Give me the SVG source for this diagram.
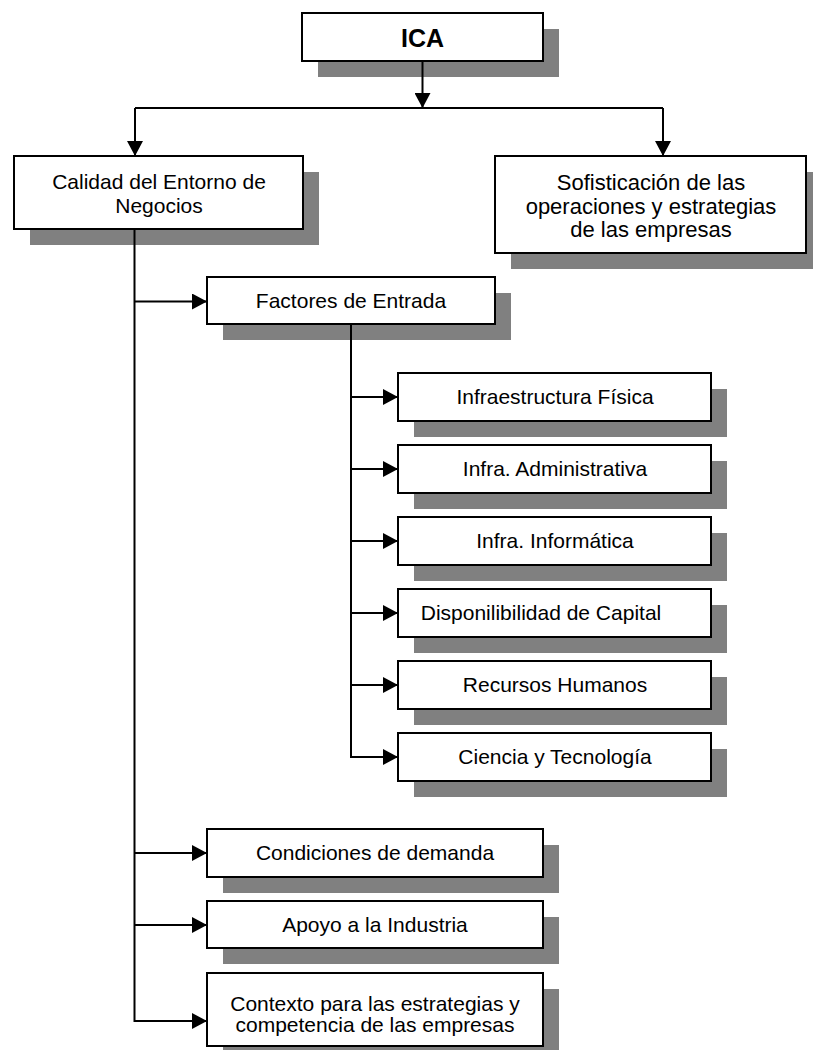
<svg xmlns="http://www.w3.org/2000/svg" width="813" height="1050" viewBox="0 0 813 1050">
<defs>
<style>
.sh{fill:#808080}
.bx{fill:#ffffff;stroke:#000000;stroke-width:2}
.t{font-family:"Liberation Sans",Arial,sans-serif;font-size:21px;fill:#000000;text-anchor:middle}
.t2{font-size:22px}
.tb{font-family:"Liberation Sans",Arial,sans-serif;font-size:25px;font-weight:bold;fill:#000000;text-anchor:middle}
.ln{fill:none;stroke:#000000;stroke-width:2}
</style>
<marker id="ah" viewBox="0 0 15 16" refX="15" refY="8" markerWidth="15" markerHeight="16" markerUnits="userSpaceOnUse" orient="auto">
<path d="M0,0 L15,8 L0,16 z" fill="#000000"/>
</marker>
</defs>
<rect width="813" height="1050" fill="#ffffff"/>

<g id="ica">
<rect class="sh" x="318" y="29" width="241" height="48"/>
<rect class="bx" x="302" y="13" width="241" height="48"/>
<text class="tb" x="422.5" y="47">ICA</text>
</g>

<g id="calidad">
<rect class="sh" x="30" y="172" width="289" height="73"/>
<rect class="bx" x="14" y="156" width="289" height="73"/>
<text class="t" x="159" y="188.5">Calidad del Entorno de</text>
<text class="t" x="159" y="212.5">Negocios</text>
</g>

<g id="sofisticacion">
<rect class="sh" x="511" y="172" width="311" height="97"/>
<rect class="bx" x="495" y="156" width="311" height="97"/>
<text class="t t2" x="651" y="190">Sofisticación de las</text>
<text class="t t2" x="651" y="213.5">operaciones y estrategias</text>
<text class="t t2" x="651" y="237">de las empresas</text>
</g>

<g id="factores">
<rect class="sh" x="223" y="293" width="288" height="47"/>
<rect class="bx" x="207" y="277" width="288" height="47"/>
<text class="t" x="351" y="307.5">Factores de Entrada</text>
</g>

<g id="infraestructura">
<rect class="sh" x="414" y="389" width="313" height="48"/>
<rect class="bx" x="398" y="373" width="313" height="48"/>
<text class="t" x="555" y="404">Infraestructura Física</text>
</g>

<g id="administrativa">
<rect class="sh" x="414" y="461" width="313" height="48"/>
<rect class="bx" x="398" y="445" width="313" height="48"/>
<text class="t" x="555" y="476">Infra. Administrativa</text>
</g>

<g id="informatica">
<rect class="sh" x="414" y="533" width="313" height="48"/>
<rect class="bx" x="398" y="517" width="313" height="48"/>
<text class="t" x="555" y="548">Infra. Informática</text>
</g>

<g id="capital">
<rect class="sh" x="414" y="605" width="313" height="48"/>
<rect class="bx" x="398" y="589" width="313" height="48"/>
<text class="t" x="541" y="620">Disponilibilidad de Capital</text>
</g>

<g id="recursos">
<rect class="sh" x="414" y="677" width="313" height="48"/>
<rect class="bx" x="398" y="661" width="313" height="48"/>
<text class="t" x="555" y="692">Recursos Humanos</text>
</g>

<g id="ciencia">
<rect class="sh" x="414" y="749" width="313" height="48"/>
<rect class="bx" x="398" y="733" width="313" height="48"/>
<text class="t" x="555" y="764">Ciencia y Tecnología</text>
</g>

<g id="demanda">
<rect class="sh" x="223" y="845" width="336" height="48"/>
<rect class="bx" x="207" y="829" width="336" height="48"/>
<text class="t" x="375" y="860">Condiciones de demanda</text>
</g>

<g id="apoyo">
<rect class="sh" x="223" y="917" width="336" height="47"/>
<rect class="bx" x="207" y="901" width="336" height="47"/>
<text class="t" x="375" y="932">Apoyo a la Industria</text>
</g>

<g id="contexto">
<rect class="sh" x="223" y="989" width="336" height="73"/>
<rect class="bx" x="207" y="973" width="336" height="73"/>
<text class="t" x="375" y="1010.5">Contexto para las estrategias y</text>
<text class="t" x="375" y="1032">competencia de las empresas</text>
</g>

<g id="connectors">
<path class="ln" d="M422.5,61 V108" marker-end="url(#ah)"/>
<path class="ln" d="M135,108 H663"/>
<path class="ln" d="M135,108 V156" marker-end="url(#ah)"/>
<path class="ln" d="M663,108 V156" marker-end="url(#ah)"/>
<path class="ln" d="M134.5,229 V1021 H207" marker-end="url(#ah)"/>
<path class="ln" d="M134.5,301.5 H207" marker-end="url(#ah)"/>
<path class="ln" d="M134.5,853 H207" marker-end="url(#ah)"/>
<path class="ln" d="M134.5,925 H207" marker-end="url(#ah)"/>
<path class="ln" d="M351,324 V757 H398" marker-end="url(#ah)"/>
<path class="ln" d="M351,397 H398" marker-end="url(#ah)"/>
<path class="ln" d="M351,469 H398" marker-end="url(#ah)"/>
<path class="ln" d="M351,541 H398" marker-end="url(#ah)"/>
<path class="ln" d="M351,613 H398" marker-end="url(#ah)"/>
<path class="ln" d="M351,685 H398" marker-end="url(#ah)"/>
</g>
</svg>
